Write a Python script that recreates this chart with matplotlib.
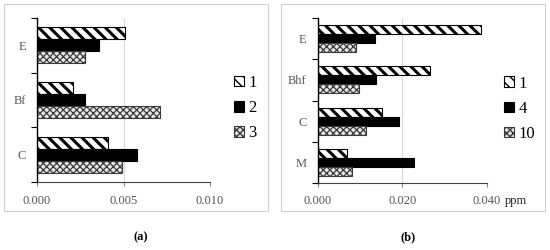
import numpy as np
import matplotlib.pyplot as plt
from matplotlib.patches import Rectangle

plt.rcParams['font.family'] = ['Liberation Serif', 'DejaVu Serif']

# panel (a)
cats_a = ['C', 'Bf', 'E']
series_a = ['1', '2', '3']
vals_a = [
    [0.0041, 0.0021, 0.0051],   # 1
    [0.0058, 0.0028, 0.0036],   # 2
    [0.0049, 0.0071, 0.0028],   # 3
]
ticks_a = [0.000, 0.005, 0.010]

# panel (b)
cats_b = ['M', 'C', 'Bhf', 'E']
series_b = ['1', '4', '10']
vals_b = [
    [0.0068, 0.0151, 0.0266, 0.0387],   # 1
    [0.0228, 0.0193, 0.0138, 0.0135],   # 4
    [0.0080, 0.0113, 0.0098, 0.0091],   # 10
]
ticks_b = [0.000, 0.020, 0.040]

styles = [
    dict(facecolor='white', edgecolor='black', hatch='\\\\\\'),
    dict(facecolor='black', edgecolor='black', hatch=None),
    dict(facecolor='#e8e8e8', edgecolor='#3a3a3a', hatch='xxxxx'),
]
hatch_lw = [2.2, 1.0, 0.9]

fig = plt.figure(figsize=(5.5, 2.5), dpi=100)

# frames around each panel
for x0 in (0.007, 0.511):
    fig.patches.append(Rectangle((x0, 0.155), 0.48, 0.828, transform=fig.transFigure,
                                 fill=False, edgecolor='#d0d0d0', lw=0.8))


def panel(rect, cats, series, vals, ticks, legend_xy, caption, cap_x, unit=None):
    ax = fig.add_axes(rect)
    y = np.arange(len(cats))
    h = 0.22
    for i, (lab, v) in enumerate(zip(series, vals)):
        with plt.rc_context({'hatch.linewidth': hatch_lw[i]}):
            ax.barh(y + (1 - i) * h, v, height=h, label=lab, linewidth=0.8, **styles[i])
    ax.set_ylim(-0.5, len(cats) - 0.5)
    ax.set_xlim(0, ticks[-1])
    ax.set_xticks(ticks)
    ax.set_xticklabels(['%.3f' % t for t in ticks])
    ax.set_yticks(y)
    ax.set_yticklabels(cats)
    ax.set_yticks(np.arange(len(cats) + 1) - 0.5, minor=True)
    ax.tick_params(axis='y', which='major', length=0, pad=8, labelsize=9, labelcolor='#555555')
    ax.tick_params(axis='y', which='minor', length=4, color='black', width=0.8)
    ax.tick_params(axis='x', length=3, color='#888888', labelsize=9, labelcolor='#555555', pad=6)
    ax.grid(axis='x', color='#d9d9d9', lw=0.8)
    ax.set_axisbelow(True)
    for s in ('top', 'right'):
        ax.spines[s].set_visible(False)
    ax.spines['left'].set_linewidth(1.0)
    ax.spines['bottom'].set_color('#444444')
    ax.spines['bottom'].set_linewidth(0.8)
    if unit:
        ax.text(1.105, -0.075, unit, transform=ax.transAxes, fontsize=9,
                ha='left', va='top', color='#222222')
    ax.legend(loc='center left', bbox_to_anchor=legend_xy, frameon=False, fontsize=12,
              handlelength=0.6, handleheight=0.6, handletextpad=0.25, labelspacing=0.55,
              borderpad=0.1)
    fig.text(cap_x, 0.05, caption, ha='center', va='center', fontsize=9, fontweight='bold')
    return ax


panel([0.0673, 0.272, 0.3145, 0.656], cats_a, series_a, vals_a, ticks_a,
      (1.08, 0.45), '(a)', 0.255)
panel([0.578, 0.268, 0.307, 0.66], cats_b, series_b, vals_b, ticks_b,
      (1.045, 0.45), '(b)', 0.742, unit='ppm')

fig.savefig('out.png', dpi=100)
